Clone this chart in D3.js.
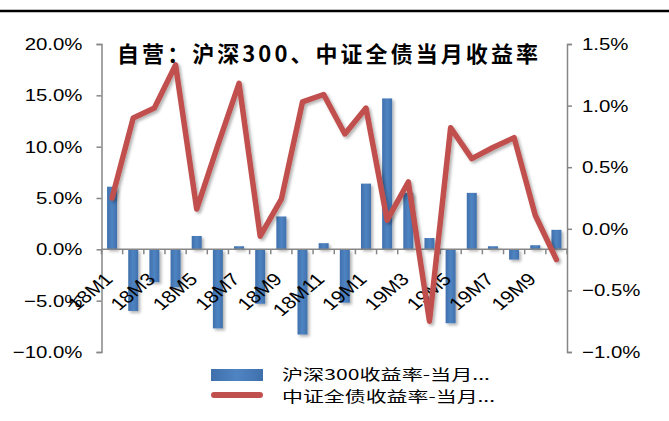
<!DOCTYPE html>
<html>
<head>
<meta charset="utf-8">
<script src="https://cdn.jsdelivr.net/npm/d3@7"></script>
<style>
  html, body { margin: 0; padding: 0; background: #fff; }
  svg { display: block; }
</style>
</head>
<body>
<div id="chart"></div>
<script>
// Monate (Kategorien) und Werte in %
const months = ['18M1','18M2','18M3','18M4','18M5','18M6','18M7','18M8','18M9','18M10','18M11','18M12',
                '19M1','19M2','19M3','19M4','19M5','19M6','19M7','19M8','19M9','19M10'];
const hs300Return = [6.1, -6.0, -3.2, -3.7, 1.3, -7.7, 0.3, -5.3, 3.2, -8.3, 0.6, -5.2,
                     6.4, 14.7, 5.5, 1.1, -7.2, 5.5, 0.3, -1.0, 0.4, 1.9];
const bondReturn  = [0.25, 0.90, 0.98, 1.33, 0.16, 0.68, 1.18, -0.06, 0.24, 1.03, 1.09, 0.77,
                     0.98, 0.07, 0.38, -0.75, 0.82, 0.57, 0.66, 0.74, 0.11, -0.25];
const leftTicks  = [-10, -5, 0, 5, 10, 15, 20];
const rightTicks = [-1, -0.5, 0, 0.5, 1, 1.5];
const titleText = '自营：沪深300、中证全债当月收益率';
const legendNames = ['沪深300收益率-当月...', '中证全债收益率-当月...'];

const W = 669, H = 421;
const RED = '#c0504d', AXIS = '#868686';
const FONT = '"Liberation Sans", Arial, sans-serif';
const CJK = '"Noto Sans CJK SC", sans-serif';
const STRETCH = 1.2; // Vorlage ist horizontal gestreckt

const svg = d3.select('#chart').append('svg')
  .attr('width', W).attr('height', H)
  .attr('viewBox', `0 0 ${W} ${H}`);

const defs = svg.append('defs');
const grad = defs.append('linearGradient').attr('id', 'barGrad')
  .attr('x1', 0).attr('x2', 1).attr('y1', 0).attr('y2', 0);
grad.append('stop').attr('offset', '0%').attr('stop-color', '#3f70ac');
grad.append('stop').attr('offset', '50%').attr('stop-color', '#4f84c2');
grad.append('stop').attr('offset', '100%').attr('stop-color', '#3f70ac');
const shadow = defs.append('filter').attr('id', 'shadow')
  .attr('x', '-50%').attr('y', '-20%').attr('width', '200%').attr('height', '140%');
shadow.append('feDropShadow').attr('dx', 2).attr('dy', 2).attr('stdDeviation', 1.5)
  .attr('flood-color', '#000').attr('flood-opacity', 0.3);

svg.append('rect').attr('width', W).attr('height', H).attr('fill', '#fff');

// schwarze Linie oben (abgeschnittene Kopfzeile)
svg.append('line').attr('x1', 0).attr('x2', W).attr('y1', 11).attr('y2', 11)
  .attr('stroke', '#000').attr('stroke-width', 2.5);

const x0 = 101.5, x1 = 567, yTop = 44, yBot = 352;

const x = d3.scaleBand().domain(months).range([x0, x1]).paddingInner(0).paddingOuter(0);
const yL = d3.scaleLinear().domain([-10, 20]).range([yBot, yTop]);
const yR = d3.scaleLinear().domain([-1, 1.5]).range([yBot, yTop]);

function stretch(sel) {
  sel.each(function () {
    const len = this.getComputedTextLength();
    d3.select(this).attr('textLength', len * STRETCH).attr('lengthAdjust', 'spacingAndGlyphs');
  });
}

// linke Achse
const gL = svg.append('g').attr('transform', `translate(${x0},0)`)
  .call(d3.axisLeft(yL).tickValues(leftTicks).tickSize(5).tickPadding(14)
    .tickFormat(d => d3.format('.1f')(d) + '%'));
gL.select('.domain').attr('stroke', AXIS).attr('stroke-width', 1.5);
gL.selectAll('.tick line').attr('stroke', AXIS).attr('stroke-width', 1.5);
gL.selectAll('.tick text').attr('font-family', FONT).attr('font-size', 17).attr('fill', '#000').call(stretch);

// rechte Achse
const gR = svg.append('g').attr('transform', `translate(${x1},0)`)
  .call(d3.axisRight(yR).tickValues(rightTicks).tickSize(5).tickPadding(10)
    .tickFormat(d => d3.format('.1f')(d) + '%'));
gR.select('.domain').attr('stroke', AXIS).attr('stroke-width', 1.5);
gR.selectAll('.tick line').attr('stroke', AXIS).attr('stroke-width', 1.5);
gR.selectAll('.tick text').attr('font-family', FONT).attr('font-size', 17).attr('fill', '#000').call(stretch);

// Balken
const barW = 10;
svg.append('g').attr('filter', 'url(#shadow)')
  .selectAll('rect').data(hs300Return).join('rect')
  .attr('x', (d, i) => x(months[i]) + x.bandwidth() / 2 - barW / 2)
  .attr('width', barW)
  .attr('y', d => Math.min(yL(d), yL(0)))
  .attr('height', d => Math.abs(yL(d) - yL(0)))
  .attr('fill', 'url(#barGrad)');

// Kategorieachse bei 0
const y0 = yL(0);
const gX = svg.append('g');
gX.append('line').attr('x1', x0).attr('x2', x1).attr('y1', y0).attr('y2', y0)
  .attr('stroke', AXIS).attr('stroke-width', 1.5);
gX.selectAll('line.tk').data(d3.range(months.length + 1)).join('line').attr('class', 'tk')
  .attr('x1', i => x0 + i * x.bandwidth()).attr('x2', i => x0 + i * x.bandwidth())
  .attr('y1', y0).attr('y2', y0 + 5)
  .attr('stroke', AXIS).attr('stroke-width', 1.5);
gX.selectAll('text').data(months.filter((m, i) => i % 2 === 0)).join('text')
  .attr('transform', d => `translate(${x(d) + x.bandwidth() / 2 + 2},${y0 + 31}) scale(${STRETCH},1) rotate(-45)`)
  .attr('text-anchor', 'end')
  .attr('font-family', FONT).attr('font-size', 17.5).attr('fill', '#000')
  .text(d => d);

// Linie (rechte Achse)
const line = d3.line()
  .x((d, i) => x(months[i]) + x.bandwidth() / 2)
  .y(d => yR(d));
svg.append('path').datum(bondReturn)
  .attr('d', line)
  .attr('fill', 'none').attr('stroke', RED).attr('stroke-width', 5.5)
  .attr('stroke-linejoin', 'round').attr('stroke-linecap', 'round')
  .attr('filter', 'url(#shadow)');

// Titel
svg.append('text').attr('x', 117).attr('y', 62)
  .attr('font-family', CJK).attr('font-weight', 'bold').attr('font-size', 22)
  .attr('fill', '#000')
  .attr('textLength', 421).attr('lengthAdjust', 'spacing')
  .text(titleText);

// Legende
const legendWidths = [208, 213];
const lg = svg.append('g');
lg.append('rect').attr('x', 211).attr('y', 369).attr('width', 52).attr('height', 12)
  .attr('fill', 'url(#barGrad)');
lg.append('line').attr('x1', 214).attr('x2', 260).attr('y1', 395).attr('y2', 395)
  .attr('stroke', RED).attr('stroke-width', 6).attr('stroke-linecap', 'round');
lg.selectAll('text').data(legendNames).join('text')
  .attr('x', 282).attr('y', (d, i) => 380 + i * 22)
  .attr('font-family', CJK).attr('font-size', 15).attr('fill', '#000')
  .attr('textLength', (d, i) => legendWidths[i]).attr('lengthAdjust', 'spacingAndGlyphs')
  .text(d => d);
</script>
</body>
</html>
